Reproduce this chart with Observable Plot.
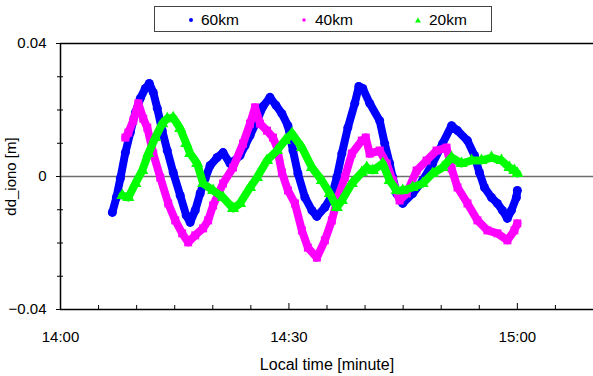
<!DOCTYPE html>
<html><head><meta charset="utf-8">
<script src="https://cdn.jsdelivr.net/npm/d3@7"></script>
<script src="https://cdn.jsdelivr.net/npm/@observablehq/plot@0.6"></script>
<style>
body{margin:0;background:#fff;font-family:"Liberation Sans",Arial,sans-serif;}
#wrap{position:relative;width:593px;height:376px;}
#legend{position:absolute;left:154px;top:6px;width:336px;height:24px;border:1px solid #444;background:#fff;font-size:15.5px;color:#000;z-index:2;}
.item{position:absolute;top:0;height:24px;line-height:25px;white-space:nowrap;}
.item svg{position:absolute;top:8px;}
</style></head><body><div id="wrap"><div id="legend"></div></div>
<script>
// time in minutes after 14:00, values in metres
const t60 = [6.81,7.34,7.86,8.52,9.17,9.83,10.48,11.14,11.66,12.18,12.71,13.36,14.02,14.80,15.72,16.51,17.03,17.69,18.34,19.00,19.65,20.57,21.35,22.27,22.93,23.58,24.24,24.89,25.81,26.60,27.51,28.30,29.08,29.87,30.53,31.18,32.10,33.02,33.67,34.72,35.64,36.29,36.95,37.74,38.65,39.18,39.70,40.61,41.92,42.58,43.23,43.63,44.15,44.94,46.25,47.56,48.87,50.18,51.36,52.14,53.45,54.37,55.02,55.68,56.60,57.38,58.04,58.69,59.22,59.87,60.00];
const v60 = [-0.0108,-0.0063,-0.0006,0.0072,0.0132,0.0192,0.0235,0.0265,0.0280,0.0253,0.0205,0.0138,0.0078,0.0012,-0.0057,-0.0117,-0.0138,-0.0102,-0.0051,-0.0006,0.0033,0.0057,0.0072,0.0039,0.0048,0.0063,0.0093,0.0123,0.0168,0.0211,0.0238,0.0214,0.0189,0.0153,0.0078,0.0009,-0.0063,-0.0102,-0.0120,-0.0093,-0.0057,-0.0003,0.0069,0.0147,0.0220,0.0271,0.0265,0.0220,0.0168,0.0099,0.0039,-0.0003,-0.0051,-0.0081,-0.0051,-0.0012,0.0039,0.0099,0.0153,0.0138,0.0108,0.0063,0.0012,-0.0033,-0.0063,-0.0081,-0.0102,-0.0126,-0.0102,-0.0063,-0.0042];

const t40 = [8.52,8.91,9.56,10.22,10.87,11.40,12.18,13.10,14.15,15.07,15.98,16.77,17.69,18.73,19.39,20.04,21.35,22.66,23.97,24.89,25.55,26.20,27.12,27.91,28.43,29.08,29.87,30.79,31.70,32.49,33.67,34.72,35.64,36.42,37.34,38.26,39.57,40.09,40.61,41.92,42.84,43.63,44.54,45.46,46.77,48.08,49.39,50.70,51.36,52.14,53.45,54.76,56.07,57.38,58.69,59.61,60.00];
const v40 = [0.0117,0.0132,0.0168,0.0220,0.0174,0.0147,0.0069,-0.0003,-0.0081,-0.0132,-0.0171,-0.0198,-0.0177,-0.0156,-0.0132,-0.0087,-0.0021,0.0027,0.0099,0.0159,0.0208,0.0159,0.0138,0.0117,0.0087,0.0012,-0.0042,-0.0081,-0.0162,-0.0214,-0.0244,-0.0192,-0.0132,-0.0063,-0.0003,0.0069,0.0108,0.0117,0.0069,0.0078,0.0039,-0.0012,-0.0072,-0.0051,0.0018,0.0048,0.0078,0.0087,0.0024,-0.0033,-0.0081,-0.0132,-0.0162,-0.0171,-0.0192,-0.0162,-0.0141];

const t20 = [8.12,8.91,9.83,10.74,11.53,12.45,13.36,14.02,14.80,15.72,16.51,17.03,17.95,18.73,20.04,21.35,22.66,23.58,24.89,25.81,27.12,28.43,29.48,30.40,31.70,33.02,34.32,35.37,36.29,36.95,38.26,39.57,40.22,41.01,42.32,43.23,44.15,44.94,46.25,47.56,48.87,50.18,51.36,52.67,53.98,55.29,56.60,57.91,58.96,59.61,60.00];
const v20 = [-0.0057,-0.0063,-0.0021,0.0018,0.0069,0.0117,0.0159,0.0174,0.0177,0.0144,0.0099,0.0069,0.0039,-0.0021,-0.0042,-0.0063,-0.0096,-0.0081,-0.0033,-0.0003,0.0048,0.0078,0.0108,0.0129,0.0087,0.0027,-0.0012,-0.0051,-0.0093,-0.0072,-0.0021,0.0012,0.0027,0.0018,0.0039,-0.0012,-0.0042,-0.0042,-0.0033,-0.0021,0.0009,0.0027,0.0057,0.0039,0.0048,0.0048,0.0057,0.0048,0.0027,0.0018,0.0009];

const seriesNames = ["60km","40km","20km"];
const seriesColors = ["#0000ff","#ff00ff","#00ff00"];
const seriesSymbols = ["circle","square","triangle"];

const xMajorTicks = [0,30,60];
const xTickLabels = ["14:00","14:30","15:00"];
const xMinorTicks = [5,10,15,20,25,35,40,45,50,55,65];
const yMajorTicks = [-0.04,0,0.04];
const yTickLabels = ["\u22120.04","0","0.04"];
const yMinorTicks = [-0.03,-0.02,-0.01,0.01,0.02,0.03];

const times = [t60,t40,t20], vals = [v60,v40,v20];
const series = seriesNames.map((name,k)=>({name, color:seriesColors[k], symbol:seriesSymbols[k],
  data: times[k].map((t,i)=>({t, v: vals[k][i]}))}));

const font = '"Liberation Sans", Arial, sans-serif';
const chart = Plot.plot({
  width:593, height:376,
  marginLeft:60, marginRight:0, marginTop:43, marginBottom:67,
  style:{fontFamily:font, fontSize:"15px", background:"white", color:"#000", overflow:"visible"},
  x:{domain:[0,70]},
  y:{domain:[-0.04,0.04]},
  marks:[
    Plot.ruleY([0], {stroke:"#6e6e6e", strokeWidth:1.6}),
    ...series.flatMap(s=>[
      Plot.line(s.data, {x:"t", y:"v", stroke:s.color, strokeWidth:8, strokeLinejoin:"round", strokeLinecap:"round"}),
      Plot.dot(s.data, {x:"t", y:"v", fill:s.color, r:4.5, symbol:s.symbol})
    ]),
    Plot.ruleX([0], {stroke:"#000", strokeWidth:1.5}),
    Plot.ruleY([-0.04], {stroke:"#000", strokeWidth:1.5}),
    Plot.ruleY([0.04], {stroke:"#000", strokeWidth:1.5}),
    Plot.axisX({ticks:xMinorTicks, tickSize:4, dy:-4, tickFormat:()=>"", label:null, stroke:"#000"}),
    Plot.axisX({ticks:xMajorTicks, tickSize:6, dy:-6, tickFormat:()=>"", label:null, stroke:"#000"}),
    Plot.axisX({ticks:xMajorTicks, tickSize:0, tickPadding:22, tickFormat:d=>xTickLabels[xMajorTicks.indexOf(d)],
      label:null, fontSize:15}),
    Plot.axisX({ticks:[], tickSize:0, label:"Local time [minute]", labelAnchor:"center", labelArrow:"none", labelOffset:60, fontSize:16}),
    Plot.axisY({ticks:yMinorTicks, tickSize:6, dx:3, tickFormat:()=>"", label:null, stroke:"#000"}),
    Plot.axisY({ticks:yMajorTicks, tickSize:4, dx:0, tickFormat:()=>"", label:null, stroke:"#000"}),
    Plot.axisY({ticks:yMajorTicks, tickSize:0, tickPadding:14, tickFormat:d=>yTickLabels[yMajorTicks.indexOf(d)],
      label:"dd_iono [m]", labelAnchor:"center", labelArrow:"none", labelOffset:55, fontSize:15})
  ]
});
document.getElementById("wrap").appendChild(chart);

// legend
const legend = document.getElementById("legend");
const iconX = [36,149,263], textX = [46,160,274];
series.forEach((s,k)=>{
  const icon = document.createElementNS("http://www.w3.org/2000/svg","svg");
  icon.setAttribute("width","10"); icon.setAttribute("height","10");
  icon.style.left = (iconX[k]-5)+"px";
  let shape;
  if (s.symbol==="circle"){ shape=document.createElementNS(icon.namespaceURI,"circle"); shape.setAttribute("cx","5");shape.setAttribute("cy","5");shape.setAttribute("r","2"); }
  else if (s.symbol==="square"){ shape=document.createElementNS(icon.namespaceURI,"rect"); shape.setAttribute("x","3.5");shape.setAttribute("y","3.5");shape.setAttribute("width","3");shape.setAttribute("height","3"); }
  else { shape=document.createElementNS(icon.namespaceURI,"path"); shape.setAttribute("d","M5,2.5L8,7.5L2,7.5Z"); }
  shape.setAttribute("fill", s.color);
  icon.appendChild(shape);
  const item = document.createElement("div");
  item.className="item"; item.style.left="0"; item.style.width="100%";
  item.appendChild(icon);
  const span = document.createElement("span");
  span.textContent = s.name; span.style.position="absolute"; span.style.left=textX[k]+"px";
  item.appendChild(span);
  legend.appendChild(item);
});
chart.style.position="absolute"; chart.style.left="0"; chart.style.top="0";
</script>
</body></html>
